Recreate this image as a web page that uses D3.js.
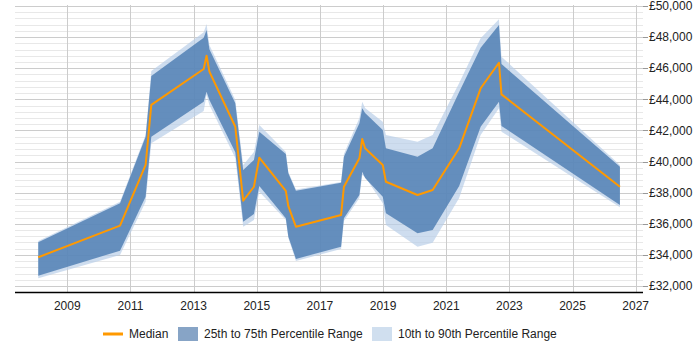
<!DOCTYPE html>
<html>
<head>
<meta charset="utf-8">
<script src="https://cdn.jsdelivr.net/npm/d3@7"></script>
<style>
  body { margin: 0; background: #fff; }
  text { font-family: "Liberation Sans", Arial, sans-serif; }
</style>
</head>
<body>
<script>
// decimal years of each sample
var dates = [2008.08, 2010.67, 2011.48, 2011.66, 2013.32, 2013.41, 2013.50, 2014.32,
  2014.57, 2014.91, 2015.08, 2015.92, 2016.00, 2016.24, 2017.67, 2017.76, 2018.25,
  2018.34, 2018.43, 2018.99, 2019.09, 2020.09, 2020.57, 2021.41, 2022.09, 2022.67,
  2022.75, 2026.50]
var median = [33850, 35880, 39780, 43640, 45950, 46800, 45780, 42240, 37480, 38380,
  40250, 38110, 37140, 35810, 36560, 38380, 40210, 41450, 40850, 39780, 38700, 37850,
  38170, 40850, 44710, 46350, 44320, 38380]
var p25 = [32660, 34270, 37740, 41600, 43850, 44490, 43960, 40600, 36130, 36630,
  38430, 36350, 35170, 33740, 34530, 36350, 37850, 39350, 38940, 37740, 36670, 35390,
  35600, 38430, 42240, 43850, 42290, 37210]
var p75 = [34810, 37320, 41600, 45500, 47960, 48460, 47220, 43750, 39460, 40100,
  41920, 40490, 39250, 38130, 38640, 40310, 42460, 43420, 43120, 42030, 40850, 40310,
  40850, 44470, 47320, 48780, 46270, 39670]
var p10 = [32500, 33990, 37420, 41170, 43250, 44300, 43640, 40230, 35810, 36240,
  38060, 36240, 35090, 33610, 34380, 36180, 37660, 39140, 39000, 37320, 35920, 34530,
  34780, 37660, 41710, 43420, 41920, 37060]
var p90 = [34900, 37420, 41710, 45820, 48310, 48840, 47490, 43960, 39780, 40610,
  42350, 40610, 39330, 38200, 38690, 40490, 42800, 43850, 43440, 42560, 41710, 41280,
  41710, 45050, 47920, 49150, 46740, 39780]

var yearTicks = [2009, 2011, 2013, 2015, 2017, 2019, 2021, 2023, 2025, 2027]
var legendLabels = ["Median", "25th to 75th Percentile Range", "10th to 90th Percentile Range"]

var width = 700, height = 350
var plotL = 15, plotR = 643, plotT = 6, plotB = 286, axisY = 292

var svg = d3.select("body").append("svg")
  .attr("width", width)
  .attr("height", height)

var x = d3.scaleLinear()
  .domain([2009, 2027])
  .range([67.3, 635.7])

var y = d3.scaleLinear()
  .domain([32000, 50000])
  .range([plotB, plotT])

var data = dates.map((d, i) => ({
  t: d, med: median[i], q1: p25[i], q3: p75[i], lo: p10[i], hi: p90[i]
}))

// minor + major horizontal grid
svg.append("g")
  .selectAll("line")
  .data(d3.range(32000, 50001, 400))
  .join("line")
    .attr("x1", plotL).attr("x2", plotR)
    .attr("y1", d => Math.round(y(d)) + 0.5)
    .attr("y2", d => Math.round(y(d)) + 0.5)
    .attr("stroke", d => d % 2000 === 0 ? "#cccccc" : "#e8e8e8")
    .attr("stroke-width", 1)

// vertical grid
svg.append("g")
  .selectAll("line")
  .data(yearTicks)
  .join("line")
    .attr("x1", d => Math.round(x(d)) + 0.5)
    .attr("x2", d => Math.round(x(d)) + 0.5)
    .attr("y1", plotT - 1).attr("y2", axisY)
    .attr("stroke", "#cccccc")

var area = (a, b) => d3.area()
  .x(d => x(d.t))
  .y0(d => y(d[a]))
  .y1(d => y(d[b]))

svg.append("path")
  .datum(data)
  .attr("d", area("lo", "hi"))
  .attr("fill", "#b9cfe8")
  .attr("fill-opacity", 0.7)

svg.append("path")
  .datum(data)
  .attr("d", area("q1", "q3"))
  .attr("fill", "#4a7ab0")
  .attr("fill-opacity", 0.8)

svg.append("path")
  .datum(data)
  .attr("d", d3.line().x(d => x(d.t)).y(d => y(d.med)))
  .attr("fill", "none")
  .attr("stroke", "#ff9900")
  .attr("stroke-width", 2)
  .attr("stroke-linejoin", "round")

// bottom axis line
svg.append("line")
  .attr("x1", plotL).attr("x2", plotR)
  .attr("y1", axisY + 0.5).attr("y2", axisY + 0.5)
  .attr("stroke", "#000")
  .attr("stroke-width", 1.5)

svg.append("g")
  .selectAll("text")
  .data(yearTicks)
  .join("text")
    .attr("x", d => x(d))
    .attr("y", 310)
    .attr("text-anchor", "middle")
    .attr("font-size", 12)
    .attr("fill", "#222")
    .text(d => d)

// right axis
var yTicks = d3.range(32000, 50001, 2000)
var yAxis = svg.append("g")
yAxis.selectAll("line")
  .data(yTicks)
  .join("line")
    .attr("x1", plotR).attr("x2", plotR + 5)
    .attr("y1", d => Math.round(y(d)) + 0.5)
    .attr("y2", d => Math.round(y(d)) + 0.5)
    .attr("stroke", "#999")
yAxis.selectAll("text")
  .data(yTicks)
  .join("text")
    .attr("x", 649)
    .attr("y", d => y(d))
    .attr("dy", "0.35em")
    .attr("font-size", 12)
    .attr("fill", "#222")
    .text(d => "£" + d3.format(",")(d))

// legend
var lg = svg.append("g").attr("font-size", 12).attr("fill", "#222")
lg.append("line")
  .attr("x1", 103).attr("x2", 123)
  .attr("y1", 334).attr("y2", 334)
  .attr("stroke", "#ff9900").attr("stroke-width", 3)
lg.append("text").attr("x", 129).attr("y", 334).attr("dy", "0.35em").text(legendLabels[0])
lg.append("rect")
  .attr("x", 178).attr("y", 327).attr("width", 20).attr("height", 14)
  .attr("fill", "#87a4c6")
lg.append("text").attr("x", 204).attr("y", 334).attr("dy", "0.35em").text(legendLabels[1])
lg.append("rect")
  .attr("x", 372).attr("y", 327).attr("width", 20).attr("height", 14)
  .attr("fill", "#d0dfef")
lg.append("text").attr("x", 398).attr("y", 334).attr("dy", "0.35em").text(legendLabels[2])
</script>
</body>
</html>
